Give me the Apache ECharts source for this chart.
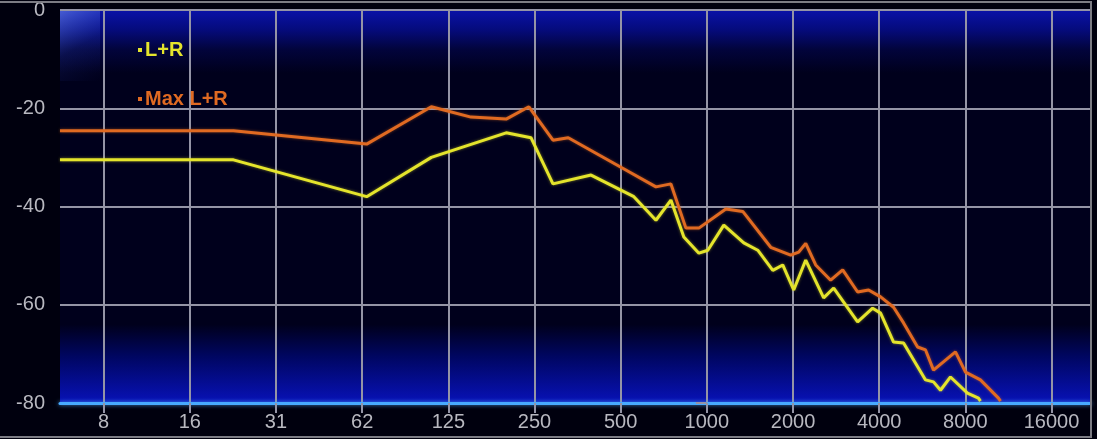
<!DOCTYPE html>
<html>
<head>
<meta charset="utf-8">
<script src="https://cdn.jsdelivr.net/npm/echarts@6/dist/echarts.min.js"></script>
<style>
html,body{margin:0;padding:0;background:#00000e;}
#c{width:1097px;height:439px;}
</style>
</head>
<body>
<div id="c"></div>
<script>
// Frequency axis (Hz) and tick labels
var freqMin = 5.5;
var freqMax = 21800;
var tickFreqs = [7.8125, 15.625, 31.25, 62.5, 125, 250, 500, 1000, 2000, 4000, 8000, 16000];
var tickLabels = ['8', '16', '31', '62', '125', '250', '500', '1000', '2000', '4000', '8000', '16000'];
var dbTicks = ['0', '-20', '-40', '-60', '-80'];

// Series: L+R  (frequency Hz, level dB)
var lrFreq = [5.5, 22.2, 64.8, 109, 199, 243, 290, 394, 556, 664, 749, 831, 938, 1008, 1146, 1346, 1506, 1700, 1841, 2011, 2215, 2559, 2774, 3363, 3794, 4045, 4490, 4866, 5807, 6191, 6550, 7097, 8134, 8886, 9030];
var lrDb   = [-30.5, -30.5, -38, -30, -25, -26, -35.4, -33.6, -38, -42.8, -38.7, -46.2, -49.5, -48.9, -43.8, -47.4, -48.9, -53, -51.9, -57, -50.9, -58.6, -56.6, -63.5, -60.7, -61.7, -67.6, -67.8, -75.3, -75.7, -77.4, -74.7, -78, -79, -79.6];

// Series: Max L+R
var maxFreq = [5.5, 22.2, 64.8, 109, 150, 199, 239, 290, 328, 501, 664, 749, 845, 938, 1165, 1335, 1672, 1963, 2094, 2215, 2400, 2707, 2982, 3363, 3674, 4045, 4490, 4866, 5446, 5807, 6191, 7388, 8007, 9030, 10440, 10610];
var maxDb   = [-24.6, -24.6, -27.3, -19.7, -21.8, -22.2, -19.7, -26.5, -26, -32, -36, -35.4, -44.4, -44.4, -40.5, -41, -48.3, -49.9, -49.3, -47.5, -51.9, -55, -52.9, -57.4, -57, -58.4, -60.5, -63.7, -68.6, -69.2, -73.3, -69.6, -73.7, -75.3, -79, -79.6];

var seriesNames = ['L+R', 'Max L+R'];
var seriesColors = ['#e4e42c', '#e06a22'];

function lg(f) { return Math.log2(f / 1000); }
function pairs(fs, ds) { return fs.map(function (f, i) { return [lg(f), ds[i]]; }); }
var tickPos = tickFreqs.map(lg);
function labelFor(v) {
  for (var i = 0; i < tickPos.length; i++) if (Math.abs(tickPos[i] - v) < 1e-6) return tickLabels[i];
  return '';
}

var chart = echarts.init(document.getElementById('c'));
var gridCol = '#9494a6';
chart.setOption({
  backgroundColor: '#00000e',
  animation: false,
  textStyle: { fontFamily: 'Liberation Sans' },
  grid: {
    left: 60, right: 7, top: 10, bottom: 36,
    show: true, borderWidth: 0,
    backgroundColor: new echarts.graphic.LinearGradient(0, 0, 0, 1, [
      { offset: 0, color: '#0a12a8' },
      { offset: 0.05, color: '#050b7c' },
      { offset: 0.1, color: '#02043c' },
      { offset: 0.16, color: '#00001c' },
      { offset: 0.8, color: '#00001c' },
      { offset: 0.88, color: '#000660' },
      { offset: 1, color: '#0812b8' }
    ])
  },
  legend: {
    orient: 'vertical',
    left: 133, top: 35,
    itemGap: 29,
    icon: 'rect', itemWidth: 4, itemHeight: 4,
    textStyle: { fontSize: 20, fontWeight: 'bold', fontFamily: 'Liberation Sans', padding: [0, 0, 0, -2] },
    data: [
      { name: seriesNames[0], textStyle: { color: seriesColors[0] } },
      { name: seriesNames[1], textStyle: { color: seriesColors[1] } }
    ]
  },
  graphic: [
    {
      type: 'rect', z: 1, silent: true,
      shape: { x: 60, y: 11, width: 40, height: 70 },
      style: {
        fill: new echarts.graphic.LinearGradient(0, 0, 1, 1, [
          { offset: 0, color: 'rgba(110,140,240,0.6)' },
          { offset: 0.5, color: 'rgba(60,90,220,0.15)' },
          { offset: 1, color: 'rgba(40,60,200,0)' }
        ])
      }
    },
    {
      type: 'polyline', z: 5, silent: true,
      shape: { points: [[0, 2], [1091, 2], [1091, 437], [0, 437]] },
      style: { stroke: '#7c7c84', lineWidth: 2, fill: null }
    }
  ],
  xAxis: {
    type: 'value',
    min: lg(freqMin), max: lg(freqMax),
    axisLine: { show: true, onZero: false, lineStyle: { color: '#48aaff', width: 3, shadowColor: 'rgba(80,170,255,0.8)', shadowBlur: 4 } },
    axisTick: { show: true, length: 10, customValues: tickPos, lineStyle: { color: gridCol, width: 2 } },
    axisLabel: { customValues: tickPos, formatter: labelFor, color: '#b8b8c0', fontSize: 20, margin: 9, fontFamily: 'Liberation Sans' },
    splitLine: { show: true, lineStyle: { color: gridCol, width: 2 } }
  },
  yAxis: {
    type: 'value',
    min: -80, max: 0, interval: 20,
    axisLine: { show: false },
    axisTick: { show: true, length: 11, lineStyle: { color: gridCol, width: 2 } },
    axisLabel: {
      color: '#b8b8c0', fontSize: 20, margin: 15, fontFamily: 'Liberation Sans',
      formatter: function (v) { return dbTicks[Math.round(-v / 20)]; }
    },
    splitLine: { show: true, lineStyle: { color: ['#48aaff', gridCol, gridCol, gridCol, gridCol], width: 2 } }
  },
  series: [
    {
      name: seriesNames[0], type: 'line', data: pairs(lrFreq, lrDb),
      showSymbol: false, symbol: 'none', color: seriesColors[0],
      lineStyle: { width: 3, color: seriesColors[0], shadowColor: 'rgba(230,230,40,0.5)', shadowBlur: 3 },
      z: 3
    },
    {
      name: seriesNames[1], type: 'line', data: pairs(maxFreq, maxDb),
      showSymbol: false, symbol: 'none', color: seriesColors[1],
      lineStyle: { width: 3, color: seriesColors[1], shadowColor: 'rgba(230,110,30,0.5)', shadowBlur: 3 },
      z: 2
    }
  ]
});
</script>
</body>
</html>
